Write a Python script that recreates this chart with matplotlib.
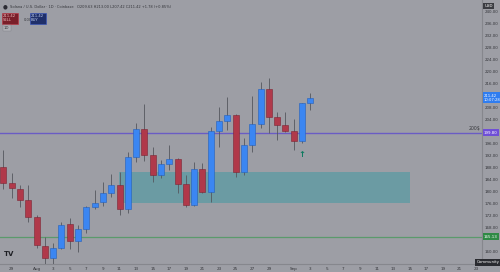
import matplotlib
matplotlib.use("Agg")
import matplotlib.pyplot as plt
from matplotlib.patches import Rectangle

# ---- data (daily SOL/USD, index 0 = Jul 28) ----
days = list(range(38))
opens  = [188.4, 182.9, 181.0, 177.3, 171.8, 162.1, 157.9, 161.4, 169.2, 163.7,
          167.7, 175.1, 176.6, 179.6, 182.3, 174.3, 191.6, 201.0, 192.3, 185.7,
          189.3, 190.9, 182.7, 175.7, 187.7, 179.9, 200.3, 203.7, 205.7, 186.8,
          195.7, 202.7, 214.2, 204.9, 202.3, 200.3, 197.0, 209.63]
highs  = [194.0, 186.2, 182.3, 182.3, 172.3, 164.9, 163.0, 170.0, 171.2, 169.0,
          175.3, 180.7, 183.3, 186.0, 186.7, 193.5, 203.0, 209.5, 195.0, 190.7,
          195.7, 191.2, 185.7, 190.1, 189.8, 201.8, 208.4, 211.8, 206.0, 197.9,
          212.0, 216.8, 217.9, 206.8, 206.7, 204.2, 209.8, 213.00]
lows   = [181.0, 177.9, 174.9, 170.1, 161.5, 155.7, 155.7, 161.0, 160.9, 160.0,
          166.2, 174.3, 175.5, 178.5, 172.3, 173.0, 190.0, 190.5, 183.5, 184.7,
          187.3, 179.6, 175.1, 175.2, 179.6, 176.8, 195.1, 200.7, 185.1, 185.7,
          193.4, 201.2, 199.8, 197.3, 200.1, 194.0, 196.5, 207.42]
closes = [182.9, 181.2, 177.3, 171.8, 162.3, 157.9, 161.4, 169.0, 163.7, 167.7,
          174.9, 176.4, 179.6, 182.3, 174.3, 191.6, 201.0, 192.3, 185.7, 189.3,
          190.9, 182.7, 175.7, 187.7, 179.9, 200.3, 203.7, 205.7, 186.8, 195.7,
          202.7, 214.2, 204.9, 202.3, 200.3, 197.0, 209.63, 211.42]

xtick_pos    = [1, 4, 6, 8, 10, 12, 14, 16, 18, 20, 22, 24, 26, 28, 30, 32, 35,
                37, 39, 41, 43, 45, 47, 49, 51, 53, 55, 57]
xtick_labels = ["29", "Aug", "3", "5", "7", "9", "11", "13", "15", "17", "19", "21",
                "23", "25", "27", "29", "Sep", "3", "5", "7", "9", "11", "13", "15",
                "17", "19", "21", "23"]
ytick_vals = [240, 236, 232, 228, 224, 220, 216, 208, 204, 196, 192, 188, 184,
              180, 176, 172, 168, 160]

zone_x = (13.9, 49.05)
zone_y = (176.2, 186.6)
purple_level = 199.8
green_level = 165.13
last_price = 211.42

# ---- style ----
BG = "#9d9ea5"
UP = "#3b86f2"
UP_EDGE = "#2560b8"
DN = "#b0394a"
DN_EDGE = "#7d2433"
WICK = "#55575e"
TXT = "#35363b"

fig = plt.figure(figsize=(5.0, 2.72), dpi=100, facecolor=BG)
ax = fig.add_axes([0, 8/272, 482/500, 264/272], facecolor=BG)
ax.set_xlim(-0.41, 57.7)
ax.set_ylim(156, 244)
for s in ax.spines.values():
    s.set_visible(False)
ax.set_yticks([])

# zone
ax.add_patch(Rectangle((zone_x[0], zone_y[0]), zone_x[1]-zone_x[0], zone_y[1]-zone_y[0],
                       facecolor="#6b9ba3", edgecolor="none", zorder=1))
# levels
ax.axhline(purple_level, color="#6a5cc4", lw=1.0, zorder=2)
ax.axhline(green_level, color="#5b9a6c", lw=0.9, zorder=2)

# candles
bw = 0.72
for d, o, h, l, c in zip(days, opens, highs, lows, closes):
    up = c >= o
    ax.plot([d, d], [l, h], color=WICK, lw=0.6, zorder=3, solid_capstyle="butt")
    ax.add_patch(Rectangle((d - bw/2, min(o, c)), bw, max(abs(c - o), 0.3),
                           facecolor=UP if up else DN,
                           edgecolor=UP_EDGE if up else DN_EDGE, lw=0.4, zorder=4))

# arrow marker
ax.text(36, 192.6, "↑", color="#0c7a5f", fontsize=6, fontweight="bold",
        ha="center", va="center", zorder=5)
ax.text(57.5, purple_level + 0.5, "200$", color=TXT, fontsize=3.3, ha="right",
        va="bottom", zorder=5)

# x axis
ax.set_xticks(xtick_pos)
ax.set_xticklabels(xtick_labels, fontsize=3.0, color=TXT)
ax.tick_params(axis="x", length=0, pad=2.2)
ax.axhline(156, color="#86878d", lw=0.8, clip_on=False)

# right price axis
ax.axvline(57.7, color="#86878d", lw=0.8, clip_on=False)
yt = ax.get_yaxis_transform()
for v in ytick_vals:
    ax.text(1.006, v, f"{v:.2f}", transform=yt, fontsize=2.9, color=TXT,
            ha="left", va="center", clip_on=False)

def plabel(val, text, fc, tc="white"):
    ax.text(1.004, val, text, transform=yt, fontsize=2.9, color=tc, ha="left",
            va="center", clip_on=False, zorder=6,
            bbox=dict(boxstyle="square,pad=0.35", fc=fc, ec="none"))

plabel(purple_level, "199.80", "#6f4fd6")
plabel(green_level, "165.13", "#2f8a45")
ax.text(1.004, last_price, "211.42\n10:07:28", transform=yt, fontsize=2.7,
        color="white", ha="left", va="center", clip_on=False, zorder=6,
        linespacing=1.1, bbox=dict(boxstyle="square,pad=0.35", fc="#2f7df0", ec="none"))

# top-right currency badge
fig.text(0.969, 0.985, "USD", fontsize=2.9, color="white", ha="left", va="top",
         bbox=dict(boxstyle="square,pad=0.3", fc="#3b3c42", ec="none"))

# header
fig.text(0.006, 0.983, "●", fontsize=4, color="#2b2b33", ha="left", va="top")
fig.text(0.019, 0.982,
         "Solana / U.S. Dollar · 1D · Coinbase   O209.63 H213.00 L207.42 C211.42 +1.78 (+0.85%)",
         fontsize=2.6, color=TXT, ha="left", va="top")
fig.text(0.006, 0.948, "211.42\nSELL", fontsize=2.7, color="#f0c0c0", ha="left", va="top",
         linespacing=1.1, bbox=dict(boxstyle="square,pad=0.4", fc="#7a1f2a", ec="#c0303f", lw=0.4))
fig.text(0.048, 0.935, "0.00", fontsize=2.6, color=TXT, ha="left", va="top")
fig.text(0.062, 0.948, "211.42\nBUY", fontsize=2.7, color="#c0d0f0", ha="left", va="top",
         linespacing=1.1, bbox=dict(boxstyle="square,pad=0.4", fc="#1f2f6a", ec="#3050c0", lw=0.4))
fig.text(0.008, 0.905, "1D", fontsize=2.8, color=TXT, ha="left", va="top",
         bbox=dict(boxstyle="square,pad=0.3", fc="#aeafb5", ec="#808187", lw=0.3))

# TradingView logo + tooltip
fig.text(0.008, 0.065, "TV", fontsize=5, fontweight="bold", color="#1e1f24",
         ha="left", va="center")
fig.text(0.999, 0.035, "Community", fontsize=2.8, color="white", ha="right", va="center",
         bbox=dict(boxstyle="square,pad=0.3", fc="#2a2b30", ec="none"))

fig.savefig("out.png", dpi=100, facecolor=BG)
